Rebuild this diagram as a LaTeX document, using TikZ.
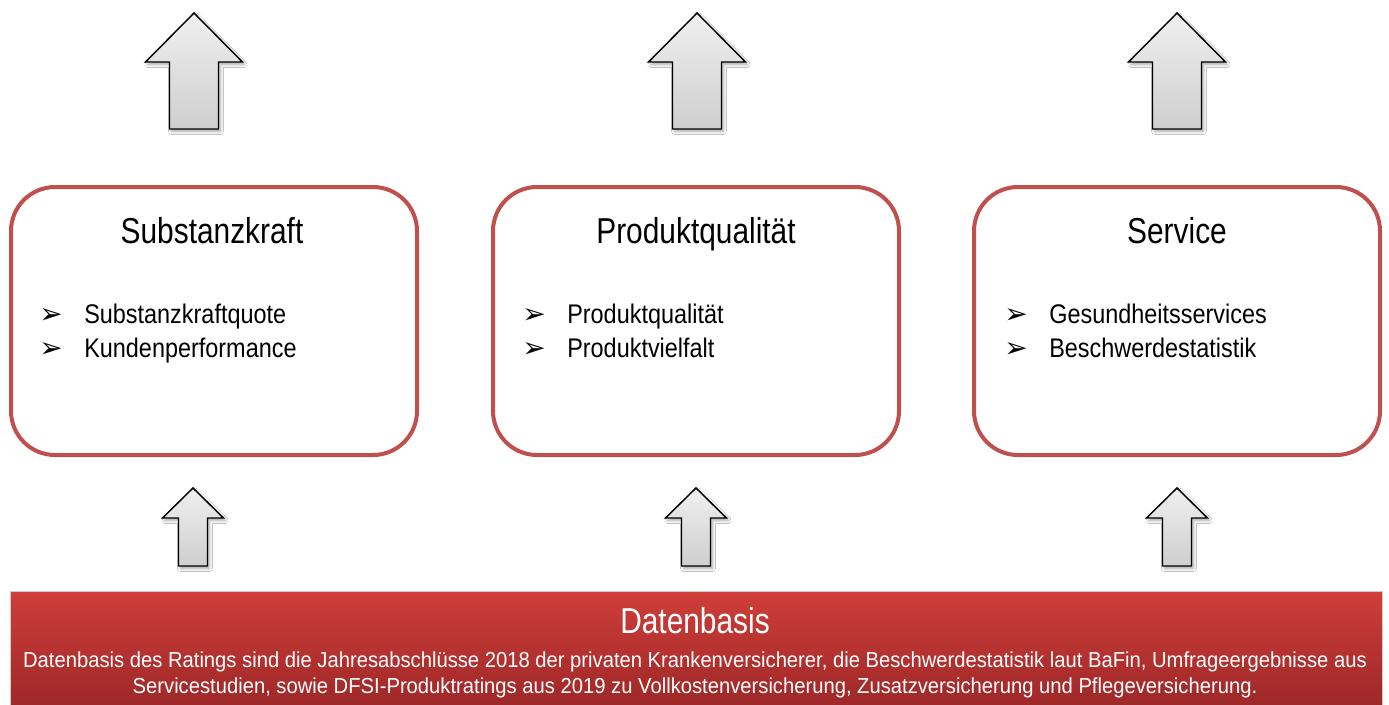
\documentclass[tikz,border=0pt]{standalone}
\usepackage{fontspec}
\setmainfont[FakeStretch=0.83]{Liberation Sans}
\newfontfamily\itemfont[FakeStretch=0.87]{Liberation Sans}
\newfontfamily\barfont[FakeStretch=0.93]{Liberation Sans}
\newfontfamily\symfont{DejaVu Sans}
\usetikzlibrary{shadows,shadows.blur}
\definecolor{boxred}{RGB}{192,80,77}
\definecolor{bartop}{RGB}{207,62,58}
\definecolor{barbot}{RGB}{158,40,40}
\tikzset{
  box/.style={draw=boxred, line width=3pt, rounded corners=33pt, fill=white,
    minimum width=304.5pt, minimum height=201pt, inner sep=0pt},
  arrowshape/.style={draw=black, line width=1.1pt, line join=miter,
    top color=gray!12, bottom color=gray!38,
    blur shadow={shadow xshift=1.5pt, shadow yshift=-2pt, shadow blur steps=6, shadow opacity=35}},
  title/.style={font=\fontsize{27}{30}\selectfont, anchor=base, inner sep=0pt},
  item/.style={font=\itemfont\fontsize{20.2}{24}\selectfont, anchor=base west, inner sep=0pt},
  bul/.style={font=\symfont\fontsize{21}{24}\selectfont, anchor=base west, inner sep=0pt},
  bartitle/.style={font=\fontsize{27}{30}\selectfont, text=white, anchor=base, inner sep=0pt},
  bartext/.style={font=\barfont\fontsize{16.3}{19.5}\selectfont, text=white, anchor=base, inner sep=0pt},
  bigup/.pic={\path[arrowshape] (0,0) -- (48.5,49) -- (24.5,49) -- (24.5,116) -- (-24.5,116) -- (-24.5,49) -- (-48.5,49) -- cycle;},
  smallup/.pic={\path[arrowshape] (0,0) -- (30.5,30) -- (14.5,30) -- (14.5,78) -- (-14.5,78) -- (-14.5,30) -- (-30.5,30) -- cycle;}
}
\begin{document}
\begin{tikzpicture}[x=0.75pt,y=-0.75pt]
\useasboundingbox[fill=white] (0,0) rectangle (1389,704);

% top arrows
\pic at (194,13) {bigup};
\pic at (697,13) {bigup};
\pic at (1177,13) {bigup};

% boxes
\node[box] (b1) at (214,321) {};
\node[box] (b2) at (696,321) {};
\node[box] (b3) at (1177,321) {};

\node[title] (t1) at (212,243) {Substanzkraft};
\node[title] (t2) at (696,243) {Produktqualität};
\node[title] (t3) at (1177,243) {Service};

\node[bul] (p11) at (39,323) {➢};
\node[item] (i11) at (84,323) {Substanzkraftquote};
\node[bul] (p12) at (39,357) {➢};
\node[item] (i12) at (84,357) {Kundenperformance};

\node[bul] (p21) at (522,323) {➢};
\node[item] (i21) at (567,323) {Produktqualität};
\node[bul] (p22) at (522,357) {➢};
\node[item] (i22) at (567,357) {Produktvielfalt};

\node[bul] (p31) at (1004,323) {➢};
\node[item] (i31) at (1049,323) {Gesundheitsservices};
\node[bul] (p32) at (1004,357) {➢};
\node[item] (i32) at (1049,357) {Beschwerdestatistik};

% bottom arrows
\pic at (193,488) {smallup};
\pic at (696,488) {smallup};
\pic at (1177,488) {smallup};

% data bar
\path[top color=bartop, bottom color=barbot, draw=gray!40, line width=0.5pt] (10,591) rectangle (1382,705);
\node[bartitle] (dt) at (695,633) {Datenbasis};
\node[bartext] (d1) at (695,667.5) {Datenbasis des Ratings sind die Jahresabschlüsse 2018 der privaten Krankenversicherer, die Beschwerdestatistik laut BaFin, Umfrageergebnisse aus};
\node[bartext] (d2) at (695,693.5) {Servicestudien, sowie DFSI-Produktratings aus 2019 zu Vollkostenversicherung, Zusatzversicherung und Pflegeversicherung.};
\end{tikzpicture}
\end{document}
